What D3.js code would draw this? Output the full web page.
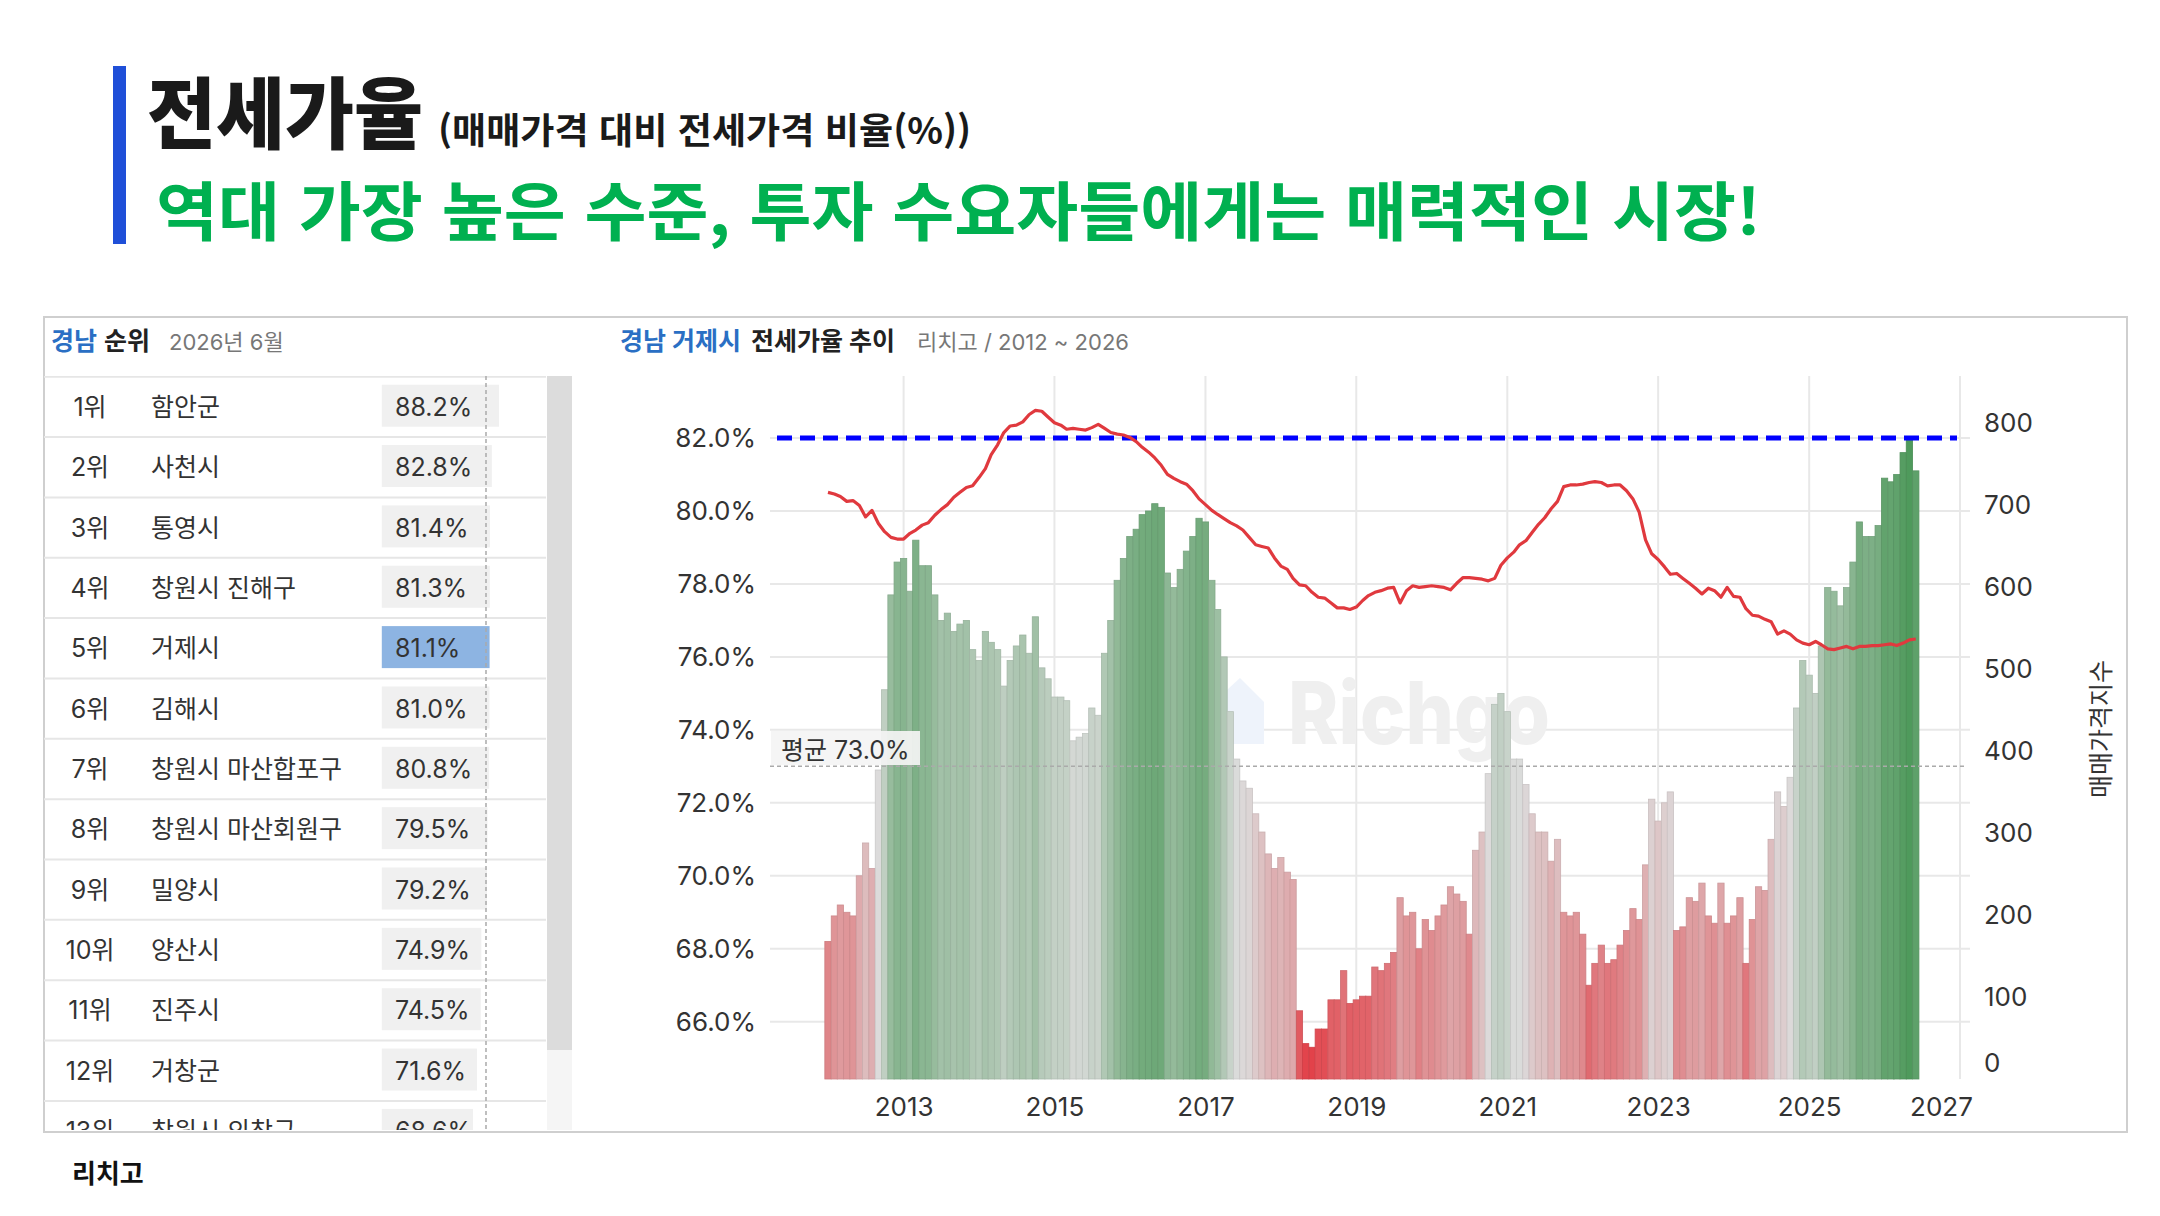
<!DOCTYPE html>
<html lang="ko">
<head>
<meta charset="utf-8">
<script src="https://cdn.jsdelivr.net/npm/d3@7.9.0/dist/d3.min.js"></script>
<style>
  body { margin: 0; background: #fff; }
  svg { display: block; font-family: "Inter", "Noto Sans CJK KR", sans-serif; }
</style>
</head>
<body>
<svg id="chart" width="2160" height="1216"></svg>
<script>
// ---- ranking table (경남 순위, 2026년 6월) ----
const rankRegions = ['함안군', '사천시', '통영시', '창원시 진해구', '거제시', '김해시',
  '창원시 마산합포구', '창원시 마산회원구', '밀양시', '양산시', '진주시', '거창군', '창원시 의창구'];
const rankValues = [88.2, 82.8, 81.4, 81.3, 81.1, 81.0, 80.8, 79.5, 79.2, 74.9, 74.5, 71.6, 68.6];
const selectedRegion = '거제시';
const tableMark = 78.4;

// ---- 거제시 전세가율 (monthly, 2012-01 ~ 2026-06) ----
const jeonseRatio = [
  68.2, 68.9, 69.2, 69.0, 68.9, 70.0, 70.9, 70.2, 72.9, 75.1,
  77.7, 78.6, 78.7, 77.8, 79.2, 78.5, 78.5, 77.7, 77.0, 77.2,
  76.7, 76.9, 77.0, 76.2, 75.9, 76.7, 76.4, 76.2, 75.2, 75.9,
  76.3, 76.6, 76.1, 77.1, 75.7,
  75.4, 74.9, 74.9, 74.8, 73.7, 73.8, 73.9, 74.6, 74.4, 76.1,
  77.0, 78.1, 78.7, 79.3, 79.5, 79.9, 80.0, 80.2, 80.1, 78.3,
  77.9, 78.4, 78.9, 79.3, 79.8, 79.7, 78.1, 77.3, 76.0, 74.5,
  73.2, 72.6, 72.4, 71.7, 71.2,
  70.6, 70.2, 70.5, 70.1, 69.9, 66.3, 65.4, 65.3, 65.8, 65.8,
  66.6, 66.6, 67.4, 66.5, 66.6, 66.7, 66.7, 67.5, 67.4, 67.6,
  67.9, 69.4, 68.9, 69.0, 68.0, 68.8, 68.5, 68.9, 69.2, 69.7,
  69.5, 69.3, 68.4, 70.7, 71.2,
  72.8, 74.7, 75.0, 74.5, 73.2, 73.2, 72.5, 71.7, 71.2, 71.2,
  70.4, 71.0, 69.0, 68.9, 69.0, 68.4, 67.0, 67.6, 68.1, 67.6,
  67.7, 68.1, 68.5, 69.1, 68.8, 70.3, 72.1, 71.5, 72.0, 72.3,
  68.5, 68.6, 69.4, 69.3, 69.8,
  68.9, 68.7, 69.8, 68.7, 68.9, 69.4, 67.6, 68.8, 69.7, 69.6,
  71.0, 72.3, 71.9, 72.7, 74.6, 75.9, 75.5, 75.0, 76.3, 77.9,
  77.8, 77.4, 77.9, 78.6, 79.7, 79.3, 79.3, 79.6, 80.9, 80.8,
  81.0, 81.6, 82.0, 81.1
];

// ---- 매매가격지수 (right axis) ----
const priceIndex = [
  716, 714, 711, 705, 706, 700, 686, 694, 678, 668, 661, 659, 659, 666, 670, 676, 679, 688,
  695, 701, 710, 716, 722, 724, 734, 745, 762, 774, 789, 797, 798, 802, 811, 816, 815,
  808, 801, 798, 793, 794, 793, 792, 795, 799, 794, 789, 787, 786, 783, 778, 771, 765, 758,
  749, 738, 733, 729, 726, 718, 708, 701, 694, 689, 684, 679, 675, 670, 661, 652, 650,
  648, 636, 626, 622, 611, 603, 602, 594, 588, 587, 581, 575, 575, 573, 576, 584, 590, 594,
  596, 599, 600, 581, 596, 602, 600, 601, 602, 601, 600, 597, 605, 612, 612, 611, 610,
  608, 611, 627, 636, 643, 652, 657, 667, 677, 685, 696, 705, 723, 725, 725, 726, 728, 729,
  728, 724, 725, 725, 718, 708, 692, 658, 641, 634, 625, 616, 617, 611, 605, 599, 592,
  599, 596, 588, 600, 589, 588, 574, 566, 565, 561, 558, 543, 547, 543, 536, 532, 530, 534,
  530, 525, 524, 526, 528, 525, 528, 528, 529, 529, 530, 531, 529, 532, 536, 537
];

const avgRatio = 73.0;
const leftTicks = [66, 68, 70, 72, 74, 76, 78, 80, 82];
const rightTicks = [0, 100, 200, 300, 400, 500, 600, 700, 800];
const yearTicks = [2013, 2015, 2017, 2019, 2021, 2023, 2025, 2027];

const months = d3.timeMonth.range(new Date(2012, 0, 1), new Date(2026, 6, 1));

const svg = d3.select('#chart');

// ---------- headline ----------
svg.append('rect').attr('x', 113).attr('y', 66).attr('width', 13).attr('height', 178).attr('fill', '#1f4fd8');
svg.append('text').attr('x', 147).attr('y', 143)
  .attr('font-family', '"Noto Sans CJK KR", sans-serif').attr('font-weight', 900)
  .attr('font-size', 78).attr('fill', '#1a1a1a')
  .attr('textLength', 276).attr('lengthAdjust', 'spacingAndGlyphs').text('전세가율');
svg.append('text').attr('x', 438).attr('y', 144)
  .attr('font-family', '"Noto Sans CJK KR", sans-serif').attr('font-weight', 700)
  .attr('font-size', 36).attr('fill', '#1a1a1a')
  .attr('textLength', 533).attr('lengthAdjust', 'spacingAndGlyphs').text('(매매가격 대비 전세가격 비율(%))');
svg.append('text').attr('x', 156).attr('y', 235)
  .attr('font-family', '"Noto Sans CJK KR", sans-serif').attr('font-weight', 700)
  .attr('font-size', 64).attr('fill', '#00b050')
  .attr('textLength', 1605).attr('lengthAdjust', 'spacingAndGlyphs').text('역대 가장 높은 수준, 투자 수요자들에게는 매력적인 시장!');

// ---------- panel ----------
svg.append('rect').attr('x', 44).attr('y', 317).attr('width', 2083).attr('height', 815)
  .attr('fill', 'none').attr('stroke', '#cfcfcf').attr('stroke-width', 2);

svg.append('text').attr('x', 72).attr('y', 1183).attr('font-family', '"Noto Sans CJK KR", sans-serif')
  .attr('font-weight', 700).attr('font-size', 26).attr('fill', '#111').text('리치고');

// ---------- ranking table ----------
const hdr = svg.append('g').attr('font-size', 25).attr('font-weight', 700);
hdr.append('text').attr('x', 51).attr('y', 350).attr('fill', '#2a6fc4').text('경남');
hdr.append('text').attr('x', 104).attr('y', 350).attr('fill', '#222').text('순위');
hdr.append('text').attr('x', 169).attr('y', 350).attr('fill', '#777').attr('font-weight', 400)
  .attr('font-size', 22).text('2026년 6월');

svg.append('clipPath').attr('id', 'tableClip').append('rect')
  .attr('x', 44).attr('y', 376).attr('width', 540).attr('height', 754);
const table = svg.append('g').attr('clip-path', 'url(#tableClip)');

const rowTop = 376.7, rowH = 60.35;
const barW = d3.scaleLinear().domain([0, 100]).range([0, 132.9]);

table.append('rect').attr('x', 547).attr('y', 376).attr('width', 25).attr('height', 760).attr('fill', '#f5f5f5');
table.append('rect').attr('x', 547).attr('y', 376).attr('width', 25).attr('height', 674).attr('fill', '#dcdcdc');
table.append('line').attr('x1', 43).attr('x2', 546).attr('y1', rowTop).attr('y2', rowTop)
  .attr('stroke', '#e6e6e6').attr('stroke-width', 2);

const rows = table.selectAll('g.row').data(rankRegions).join('g').attr('class', 'row')
  .attr('transform', (d, i) => `translate(0,${rowTop + i * rowH})`);
rows.append('line').attr('x1', 43).attr('x2', 546).attr('y1', rowH).attr('y2', rowH)
  .attr('stroke', '#e6e6e6').attr('stroke-width', 2);
rows.append('rect').attr('x', 381.8).attr('y', 8).attr('height', 42)
  .attr('width', (d, i) => barW(rankValues[i]))
  .attr('fill', d => d === selectedRegion ? '#8db4e2' : '#f0f0f0');
rows.append('text').attr('x', 90).attr('y', rowH / 2 + 9).attr('text-anchor', 'middle')
  .attr('font-size', 25).attr('fill', '#333').text((d, i) => (i + 1) + '위');
rows.append('text').attr('x', 151).attr('y', rowH / 2 + 9)
  .attr('font-size', 25).attr('fill', '#333').text(d => d);
rows.append('text').attr('x', 395).attr('y', rowH / 2 + 9)
  .attr('font-size', 25).attr('fill', '#333').text((d, i) => rankValues[i].toFixed(1) + '%');
table.append('line').attr('x1', 381.8 + barW(tableMark)).attr('x2', 381.8 + barW(tableMark))
  .attr('y1', 376).attr('y2', 1132).attr('stroke', '#aaa').attr('stroke-width', 1.5)
  .attr('stroke-dasharray', '4,3');

// ---------- trend chart ----------
const ct = svg.append('g').attr('font-size', 25).attr('font-weight', 700);
ct.append('text').attr('x', 620).attr('y', 350).attr('fill', '#2a6fc4').text('경남 거제시');
ct.append('text').attr('x', 751).attr('y', 350).attr('fill', '#222').text('전세가율 추이');
ct.append('text').attr('x', 917).attr('y', 350).attr('fill', '#777').attr('font-weight', 400)
  .attr('font-size', 22).text('리치고 / 2012 ~ 2026');

const plotL = 770, plotR = 1970, plotT = 376, plotB = 1079;
const x = d3.scaleTime().domain([new Date(2013, 0, 1), new Date(2027, 0, 1)]).range([903.6, 1960]);
const yL = d3.scaleLinear().domain([64.43, 83.7]).range([plotB, plotT]);
const yR = d3.scaleLinear().domain([0, 858]).range([plotB, plotT]);

// grid
svg.append('g').selectAll('line').data(leftTicks).join('line')
  .attr('x1', plotL).attr('x2', plotR).attr('y1', d => yL(d)).attr('y2', d => yL(d))
  .attr('stroke', '#e8e8e8').attr('stroke-width', 2);
svg.append('g').selectAll('line').data(yearTicks).join('line')
  .attr('x1', d => x(new Date(d, 0, 1))).attr('x2', d => x(new Date(d, 0, 1)))
  .attr('y1', plotT).attr('y2', plotB).attr('stroke', '#e8e8e8').attr('stroke-width', 2);

// watermark
svg.append('path').attr('d', 'M1214,744 L1214,702 L1240,678 L1264,702 L1264,744 Z').attr('fill', '#eef3fb');
svg.append('text').attr('x', 1288).attr('y', 744).attr('font-family', 'Inter, sans-serif')
  .attr('font-weight', 800).attr('font-size', 86).attr('fill', '#efefef')
  .attr('textLength', 262).attr('lengthAdjust', 'spacingAndGlyphs').text('Richgo');

// bars coloured by distance from the average
const greenScale = d3.interpolateRgb('#dcdcdc', '#4f9a5c');
const redScale = d3.interpolateRgb('#dcdcdc', '#e2424a');
const devUp = d3.max(jeonseRatio) - avgRatio;
const devDown = avgRatio - d3.min(jeonseRatio);
function barColor(v) {
  const d = v - avgRatio;
  return d >= 0 ? greenScale(Math.pow(Math.min(1, d / devUp), 1.1))
                : redScale(Math.pow(Math.min(1, -d / devDown), 1.2));
}
const bw = (x(new Date(2014, 0, 1)) - x(new Date(2013, 0, 1))) / 12;
svg.append('g').selectAll('rect').data(jeonseRatio).join('rect')
  .attr('x', (d, i) => x(months[i]) - bw / 2)
  .attr('y', d => yL(d))
  .attr('width', bw)
  .attr('height', d => plotB - yL(d))
  .attr('fill', d => barColor(d))
  .attr('stroke', d => d3.color(barColor(d)).darker(0.25))
  .attr('stroke-width', 0.8);

// average line + label
svg.append('line').attr('x1', plotL).attr('x2', 1965).attr('y1', yL(avgRatio)).attr('y2', yL(avgRatio))
  .attr('stroke', '#aaa').attr('stroke-width', 1.5).attr('stroke-dasharray', '4,3');
svg.append('rect').attr('x', 771).attr('y', 731).attr('width', 149).attr('height', 34)
  .attr('fill', '#f4f4f4').attr('opacity', 0.92);
svg.append('text').attr('x', 781).attr('y', 759).attr('font-size', 25).attr('fill', '#333')
  .text('평균 ' + avgRatio.toFixed(1) + '%');

// historic high line
const maxRatio = d3.max(jeonseRatio);
svg.append('line').attr('x1', 777).attr('x2', 1957).attr('y1', yL(maxRatio)).attr('y2', yL(maxRatio))
  .attr('stroke', '#0000ff').attr('stroke-width', 5).attr('stroke-dasharray', '15,8');

// price index line
svg.append('path').datum(priceIndex)
  .attr('d', d3.line().x((d, i) => x(months[i])).y(d => yR(d)))
  .attr('fill', 'none').attr('stroke', '#e0393e').attr('stroke-width', 3.2)
  .attr('stroke-linejoin', 'round');

// axes
const axL = svg.append('g').attr('transform', `translate(${plotL},0)`)
  .call(d3.axisLeft(yL).tickValues(leftTicks).tickSize(0).tickPadding(14).tickFormat(d => d.toFixed(1) + '%'));
const axR = svg.append('g').attr('transform', 'translate(1960,0)')
  .call(d3.axisRight(yR).tickValues(rightTicks).tickSize(0).tickPadding(24));
const axB = svg.append('g').attr('transform', `translate(0,${plotB})`)
  .call(d3.axisBottom(x).tickValues(yearTicks.map(y => new Date(y, 0, 1))).tickSize(0).tickPadding(19)
    .tickFormat(d3.timeFormat('%Y')));
[axL, axR, axB].forEach(a => {
  a.select('.domain').remove();
  a.selectAll('text').attr('font-size', 26).attr('fill', '#333')
    .attr('font-family', 'Inter, "Noto Sans CJK KR", sans-serif');
});
axR.selectAll('.tick').filter(d => d === 0).select('text').attr('dy', '-0.28em');
axB.selectAll('.tick').filter(d => d.getFullYear() === 2027).select('text').attr('dx', -19);

svg.append('text').attr('transform', 'translate(2101,729) rotate(-90)')
  .attr('text-anchor', 'middle').attr('dominant-baseline', 'central')
  .attr('font-size', 25).attr('fill', '#333').text('매매가격지수');
</script>
</body>
</html>
